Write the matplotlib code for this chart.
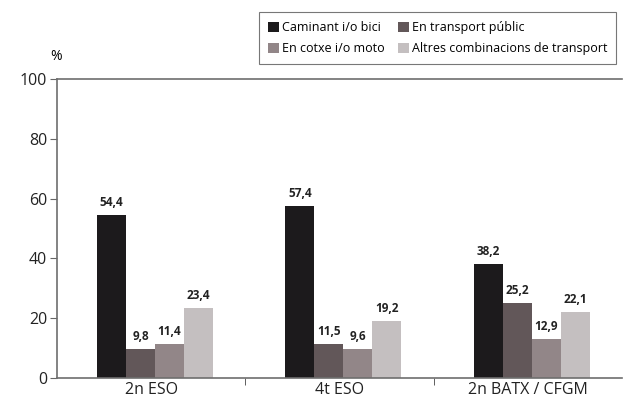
import numpy as np
from matplotlib import pyplot as plt
from matplotlib.ticker import FixedLocator

plt.rcParams['font.family'] = ['Open Sans', 'DejaVu Sans']

groups = ["2n ESO", "4t ESO", "2n BATX / CFGM"]
series = ["Caminant i/o bici", "En transport públic",
          "En cotxe i/o moto", "Altres combinacions de transport"]
walk = [54.4, 57.4, 38.2]
public = [9.8, 11.5, 25.2]
car = [11.4, 9.6, 12.9]
other = [23.4, 19.2, 22.1]
colors = ["#1c1a1c", "#625759", "#928688", "#c4bfc0"]


def label(v):
    return ("%.1f" % v).replace(".", ",")


def main():
    fig = plt.figure(figsize=(6.23, 4.03), dpi=100)
    ax = fig.add_axes([0.0915, 0.062, 0.907, 0.742])

    x = np.arange(len(groups))
    w = 0.154
    handles = []
    for i, vals in enumerate([walk, public, car, other]):
        pos = x + (i - 1.5) * w + 0.02
        b = ax.bar(pos, vals, w, color=colors[i], label=series[i])
        handles.append(b)
        for p, v in zip(pos, vals):
            ax.text(p, v + 2.0, label(v), ha='center', va='bottom',
                    fontsize=8.5, fontweight='bold', color='#222222')

    ax.set_xlim(-0.5, 2.5)
    ax.set_ylim(0, 100)
    ax.set_yticks([0, 20, 40, 60, 80, 100])
    ax.set_xticks(x)
    ax.set_xticklabels(groups, fontsize=11.5, color='#222222')
    ax.tick_params(axis='x', which='major', length=0, pad=3)
    ax.xaxis.set_minor_locator(FixedLocator([0.5, 1.5]))
    ax.tick_params(axis='x', which='minor', length=5, color='#444444',
                   direction='out')
    ax.tick_params(axis='y', labelsize=11.5, length=5, color='#666666',
                   pad=2, labelcolor='#222222')
    for s in ['left', 'bottom', 'top']:
        ax.spines[s].set_color('#6e6e6e')
        ax.spines[s].set_linewidth(1.2)
    ax.spines['right'].set_visible(False)

    fig.text(0.09, 0.84, "%", fontsize=10, ha='center', va='bottom')

    # matplotlib fills legend column-first; reorder so rows read like the source
    order = [0, 2, 1, 3]
    leg = fig.legend(handles=[handles[k] for k in order],
                     labels=[series[k] for k in order],
                     loc='upper right', ncol=2,
                     bbox_to_anchor=(0.999, 0.985), fontsize=9,
                     frameon=True, fancybox=False, handlelength=0.9,
                     handleheight=0.9, handletextpad=0.25,
                     columnspacing=1.0, borderpad=0.7, labelspacing=0.65)
    leg.get_frame().set_edgecolor('#555555')
    leg.get_frame().set_linewidth(0.8)

    fig.savefig("out.png", dpi=100)


if __name__ == "__main__":
    main()
